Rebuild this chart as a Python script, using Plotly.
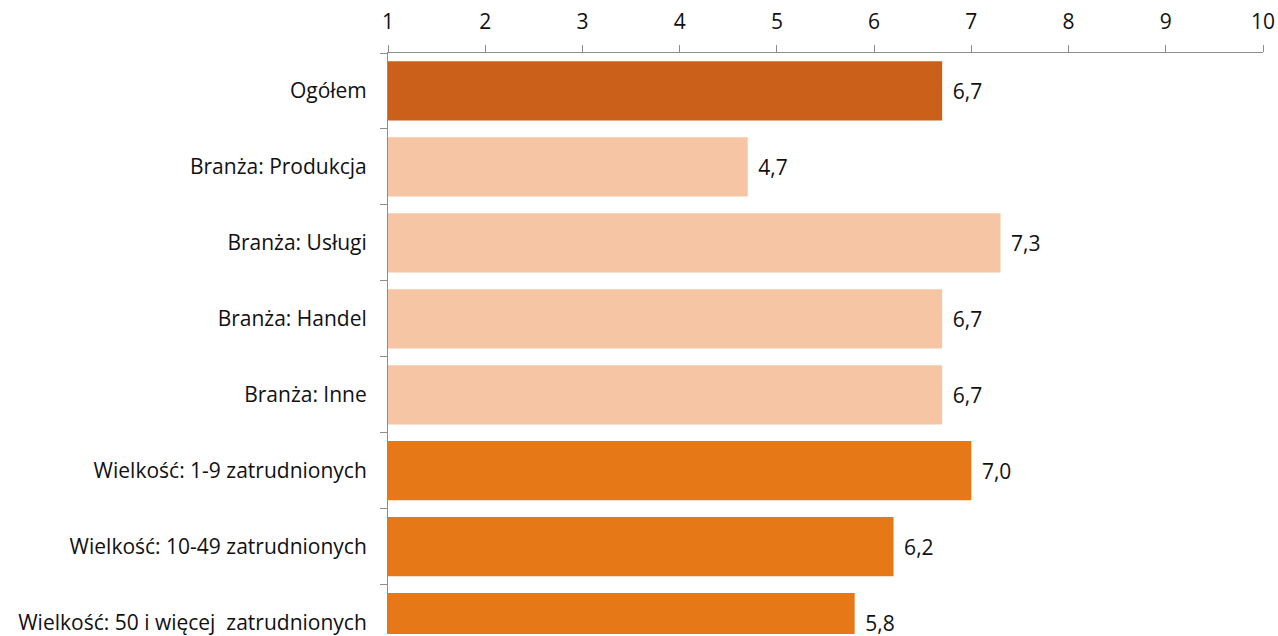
import plotly.graph_objects as go

# Survey results on a 1-10 scale, by industry and company size
categories = [
    "Ogółem",
    "Branża: Produkcja",
    "Branża: Usługi",
    "Branża: Handel",
    "Branża: Inne",
    "Wielkość: 1-9 zatrudnionych",
    "Wielkość: 10-49 zatrudnionych",
    "Wielkość: 50 i więcej\u00a0 zatrudnionych",
]
values = [6.7, 4.7, 7.3, 6.7, 6.7, 7.0, 6.2, 5.8]
bar_colors = [
    "#CA601A",
    "#F6C6A4", "#F6C6A4", "#F6C6A4", "#F6C6A4",
    "#E67818", "#E67818", "#E67818",
]
x_ticks = [1, 2, 3, 4, 5, 6, 7, 8, 9, 10]

labels = ["\u200a\u00a0" + f"{v:.1f}".replace(".", ",") for v in values]

FONT = "Open Sans"
SIZE = 21
INK = "#111111"

fig = go.Figure(
    go.Bar(
        y=categories,
        x=values,
        orientation="h",
        marker=dict(color=bar_colors, line=dict(width=0)),
        text=labels,
        textposition="outside",
        cliponaxis=False,
        textfont=dict(family=FONT, size=SIZE, color=INK),
        hoverinfo="skip",
    )
)

fig.update_layout(
    width=1278,
    height=636,
    margin=dict(l=388, r=15, t=53, b=0),
    paper_bgcolor="white",
    plot_bgcolor="white",
    bargap=0.22,
    showlegend=False,
    font=dict(family=FONT, size=SIZE, color=INK),
)

fig.update_xaxes(
    side="top",
    range=[1, 10],
    tickvals=x_ticks,
    ticktext=[str(t) for t in x_ticks],
    showgrid=False,
    zeroline=False,
    showline=True,
    linecolor="#8c8c8c",
    linewidth=1,
    ticks="outside",
    ticklen=7,
    tickcolor="#8c8c8c",
    ticklabelstandoff=8,
    tickfont=dict(family=FONT, size=SIZE, color=INK),
)

fig.update_yaxes(
    type="category",
    categoryorder="array",
    categoryarray=categories,
    range=[7.15, -0.5],
    showgrid=False,
    zeroline=False,
    showline=True,
    linecolor="#8c8c8c",
    linewidth=1,
    ticks="outside",
    tickson="boundaries",
    ticklen=7,
    tickcolor="#8c8c8c",
    ticklabelstandoff=16,
    tickfont=dict(family=FONT, size=SIZE, color=INK),
)

fig.write_html("out.html")
